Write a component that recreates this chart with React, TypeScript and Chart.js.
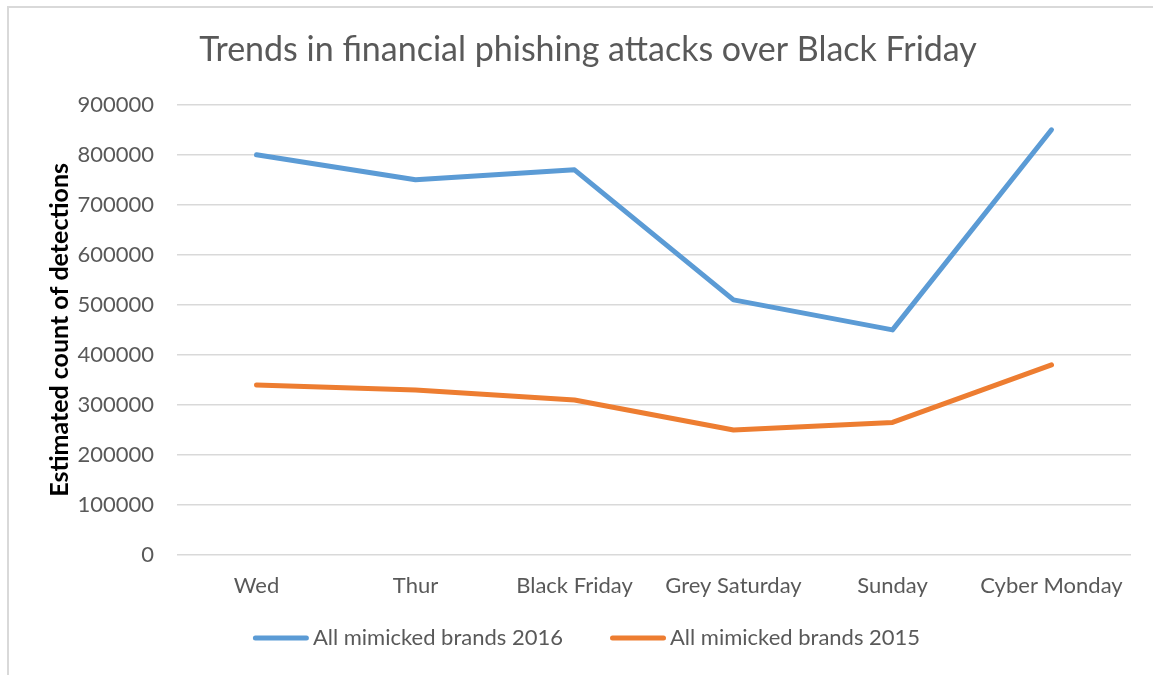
import React, { useEffect, useRef } from "react";
import { Chart, registerables } from "chart.js";

Chart.register(...registerables);

const categories = ["Wed", "Thur", "Black Friday", "Grey Saturday", "Sunday", "Cyber Monday"];
const series2016 = [800000, 750000, 770000, 510000, 450000, 850000];
const series2015 = [340000, 330000, 310000, 250000, 265000, 380000];
const seriesNames = ["All mimicked brands 2016", "All mimicked brands 2015"];
const seriesColors = ["#5B9BD5", "#ED7D31"];
const titleText = "Trends in financial phishing attacks over Black Friday";
const yAxisTitle = "Estimated count of detections";

const FONT = "Lato, 'Open Sans', sans-serif";

// Custom bottom legend: line swatch immediately followed by the label text
const bottomLegend = {
  id: "bottomLegend",
  afterDraw(chart: any) {
    const ctx = chart.ctx;
    const lineLen = 56;
    const textGap = 4;
    const itemGap = 47;
    const y = 638;
    ctx.save();
    ctx.font = `22px ${FONT}`;
    const items = chart.data.datasets.map((ds: any) => ({
      text: ds.label,
      color: ds.borderColor,
      w: ctx.measureText(ds.label).width,
    }));
    const total =
      items.reduce((s: number, it: any) => s + lineLen + textGap + it.w, 0) + itemGap * (items.length - 1);
    let x = chart.width / 2 + 10 - total / 2;
    items.forEach((it: any) => {
      ctx.strokeStyle = it.color;
      ctx.lineWidth = 5;
      ctx.lineCap = "round";
      ctx.beginPath();
      ctx.moveTo(x + 2.5, y);
      ctx.lineTo(x + lineLen - 2.5, y);
      ctx.stroke();
      ctx.fillStyle = "#595959";
      ctx.textAlign = "left";
      ctx.textBaseline = "middle";
      ctx.fillText(it.text, x + lineLen + textGap, y);
      x += lineLen + textGap + it.w + itemGap;
    });
    ctx.restore();
  },
};

export default function App() {
  const ref = useRef<HTMLCanvasElement | null>(null);

  useEffect(() => {
    if (!ref.current) return;
    const chart = new Chart(ref.current, {
      type: "line",
      data: {
        labels: categories,
        datasets: [
          {
            label: seriesNames[0],
            data: series2016,
            borderColor: seriesColors[0],
            backgroundColor: seriesColors[0],
            borderWidth: 5,
            pointRadius: 0,
            tension: 0,
            borderCapStyle: "round",
            borderJoinStyle: "round",
          },
          {
            label: seriesNames[1],
            data: series2015,
            borderColor: seriesColors[1],
            backgroundColor: seriesColors[1],
            borderWidth: 5,
            pointRadius: 0,
            tension: 0,
            borderCapStyle: "round",
            borderJoinStyle: "round",
          },
        ],
      },
      options: {
        responsive: false,
        animation: false,
        layout: { padding: { left: 45, right: 22, top: 0, bottom: 60 } },
        plugins: {
          tooltip: { enabled: false },
          legend: { display: false },
          title: {
            display: true,
            text: titleText,
            color: "#595959",
            font: { family: FONT, size: 34, weight: "normal" },
            padding: { top: 30, bottom: 34 },
          },
        },
        scales: {
          x: {
            offset: true,
            afterFit: (s: any) => {
              s.height = 60;
            },
            grid: { display: false, drawTicks: false },
            border: { display: false },
            ticks: {
              color: "#595959",
              font: { family: FONT, size: 22 },
              padding: 18,
              maxRotation: 0,
            },
          },
          y: {
            min: 0,
            max: 900000,
            afterFit: (s: any) => {
              s.width = 132;
            },
            grid: { color: "#d9d9d9", lineWidth: 1.5, drawTicks: false },
            border: { display: false },
            ticks: {
              stepSize: 100000,
              color: "#595959",
              font: { family: FONT, size: 22 },
              padding: 23,
              callback: (v: any) => String(v),
            },
            title: {
              display: true,
              text: yAxisTitle,
              color: "#000000",
              font: { family: FONT, size: 25, weight: "bold" },
              padding: 0,
            },
          },
        },
      },
      plugins: [bottomLegend],
    });
    return () => chart.destroy();
  }, []);

  return (
    <div style={{ position: "absolute", left: 0, top: 0, width: 1153, height: 675, background: "#fff" }}>
      <div
        style={{
          position: "absolute",
          left: 7,
          top: 6,
          width: 1160,
          height: 680,
          borderLeft: "2px solid #d9d9d9",
          borderTop: "2px solid #d9d9d9",
          boxSizing: "border-box",
        }}
      />
      <canvas ref={ref} width={1153} height={675} style={{ position: "absolute", left: 0, top: 0 }} />
    </div>
  );
}
